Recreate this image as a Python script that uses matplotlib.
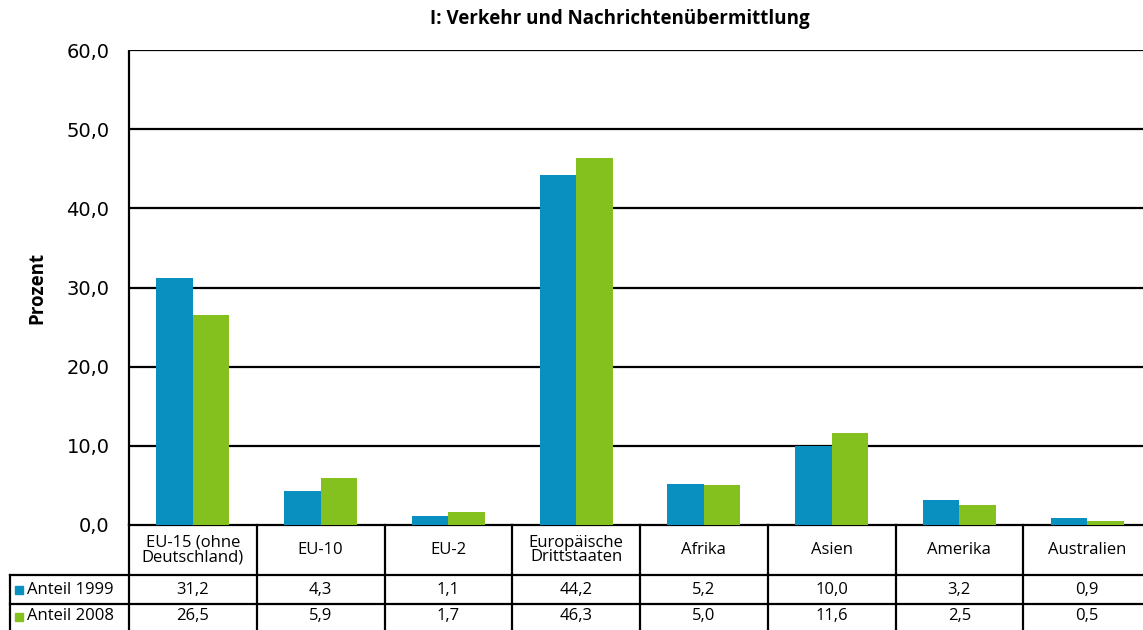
import numpy as np
from matplotlib import pyplot as plt
from matplotlib.transforms import blended_transform_factory

TITLE = "I: Verkehr und Nachrichtenübermittlung"
CATEGORIES = ["EU-15 (ohne\nDeutschland)", "EU-10", "EU-2", "Europäische\nDrittstaaten",
              "Afrika", "Asien", "Amerika", "Australien"]
SERIES_NAMES = ["Anteil 1999", "Anteil 2008"]
ANTEIL_1999 = [31.2, 4.3, 1.1, 44.2, 5.2, 10.0, 3.2, 0.9]
ANTEIL_2008 = [26.5, 5.9, 1.7, 46.3, 5.0, 11.6, 2.5, 0.5]
YTICKS = [0, 10, 20, 30, 40, 50, 60]

BLUE = '#0990c0'
GREEN = '#84c11f'
TEXT_FONT = ['Open Sans', 'DejaVu Sans']


def fmt(v):
    return ('%.1f' % v).replace('.', ',')


fig = plt.figure(figsize=(11.43, 6.3), dpi=100)
ax = fig.add_axes([129 / 1143, 1 - 525 / 630, 1022 / 1143, 475 / 630])

x = np.arange(len(CATEGORIES))
w = 0.285
ax.bar(x - w / 2, ANTEIL_1999, w, color=BLUE, zorder=3)
ax.bar(x + w / 2, ANTEIL_2008, w, color=GREEN, zorder=3)

ax.set_xlim(-0.5, len(CATEGORIES) - 0.5)
ax.set_ylim(0, 60)
ax.set_yticks(YTICKS)
ax.set_yticklabels([fmt(v) for v in YTICKS], fontsize=14, family='DejaVu Sans')
ax.tick_params(axis='y', length=0, pad=14)
ax.set_xticks([])
for y in YTICKS[1:]:
    ax.axhline(y, color='black', lw=1.6, zorder=1)
for s in ['top', 'right']:
    ax.spines[s].set_visible(False)
ax.spines['left'].set_linewidth(1.6)
ax.spines['left'].set_capstyle('butt')
ax.spines['bottom'].set_linewidth(1.6)
ax.set_ylabel("Prozent", fontsize=13.5, fontweight='bold', family=TEXT_FONT, labelpad=14)
fig.text(0.542, 0.97, TITLE, ha='center', va='center', fontsize=13.5,
         fontweight='bold', family=TEXT_FONT)

# data table below the axes (x in data units, y in axes fraction)
tr = blended_transform_factory(ax.transData, ax.transAxes)
px = 1 / 475.0
y_head = -50 * px
y_row1 = -79 * px
y_row2 = -110 * px
x_left = -0.5 - 119 / 127.75
x_right = len(CATEGORIES) - 0.5
lk = dict(color='black', lw=1.6, transform=tr, clip_on=False)

for xe in np.arange(-0.5, len(CATEGORIES) + 0.5):
    ax.plot([xe, xe], [0, y_row2], **lk)
ax.plot([x_left, x_left], [y_head, y_row2], **lk)
ax.plot([x_left, x_right], [y_head, y_head], **lk)
ax.plot([x_left, x_right], [y_row1, y_row1], **lk)

for i, cat in enumerate(CATEGORIES):
    ax.text(i, y_head / 2, cat, ha='center', va='center', fontsize=12,
            family=TEXT_FONT, linespacing=0.9, transform=tr, clip_on=False)
    ax.text(i, (y_head + y_row1) / 2, fmt(ANTEIL_1999[i]), ha='center', va='center',
            fontsize=12, family=TEXT_FONT, transform=tr, clip_on=False)
    ax.text(i, (y_row1 + y_row2) / 2 + 3 * px, fmt(ANTEIL_2008[i]), ha='center', va='center',
            fontsize=12, family=TEXT_FONT, transform=tr, clip_on=False)

for name, col, (ya, yb) in zip(SERIES_NAMES, [BLUE, GREEN],
                               [(y_head, y_row1), (y_row1, y_row2 + 6 * px)]):
    ym = (ya + yb) / 2
    ax.plot([x_left + 0.07], [ym], marker='s', ms=5.5, color=col, transform=tr, clip_on=False)
    ax.text(x_left + 0.135, ym, name, ha='left', va='center', fontsize=12,
            family=TEXT_FONT, transform=tr, clip_on=False)

fig.savefig('out.png', dpi=100)
